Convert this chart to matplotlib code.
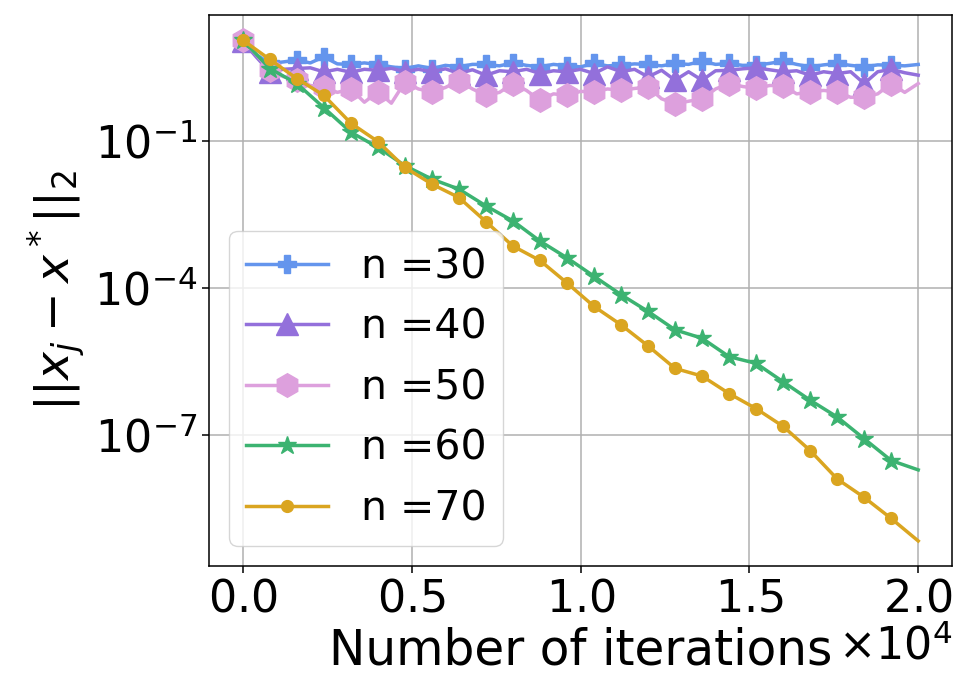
import numpy as np
import matplotlib
matplotlib.use("Agg")
import matplotlib.pyplot as plt
from matplotlib.ticker import NullLocator, FixedLocator, LogFormatterSciNotation

plt.rcParams["axes.formatter.use_mathtext"] = True

# ---- data (log10 of ||x_j - x*||_2) ----
iters_fine = list(range(0, 20001, 400))      # plateau series, every 400 iterations
iters_coarse = list(range(0, 19201, 800)) + [20000]  # descending series

log_n30 = [1.045, 0.75, 0.568, 0.60, 0.636, 0.58, 0.703, 0.56, 0.548, 0.58,
           0.548, 0.50, 0.466, 0.52, 0.466, 0.53, 0.50, 0.55, 0.548, 0.52,
           0.581, 0.53, 0.50, 0.55, 0.52, 0.50, 0.568, 0.52, 0.534, 0.56,
           0.548, 0.52, 0.568, 0.55, 0.616, 0.55, 0.568, 0.53, 0.534, 0.57,
           0.616, 0.55, 0.50, 0.54, 0.568, 0.53, 0.50, 0.54, 0.534, 0.52,
           0.548]
log_n40 = [1.02, 0.70, 0.397, 0.45, 0.466, 0.48, 0.397, 0.45, 0.39, 0.45,
           0.43, 0.47, 0.40, 0.45, 0.40, 0.46, 0.364, 0.44, 0.33, 0.42,
           0.40, 0.45, 0.364, 0.42, 0.40, 0.45, 0.364, 0.50, 0.40, 0.45,
           0.295, 0.43, 0.227, 0.40, 0.227, 0.42, 0.43, 0.46, 0.48, 0.44,
           0.40, 0.42, 0.33, 0.40, 0.364, 0.40, 0.16, 0.40, 0.45, 0.38,
           0.33]
log_n50 = [1.045, 0.75, 0.43, 0.30, 0.24, 0.12, 0.09, -0.02, 0.05, -0.22,
           -0.01, -0.24, 0.19, 0.05, -0.01, 0.08, 0.22, 0.05, -0.08, -0.02,
           0.16, 0.02, -0.18, -0.05, -0.08, 0.0, -0.01, 0.05, 0.02, 0.06,
           0.09, -0.15, -0.25, -0.20, -0.15, 0.05, 0.16, 0.10, 0.06, 0.12,
           0.12, -0.05, -0.01, 0.02, -0.01, -0.12, -0.11, -0.05, 0.16, -0.02,
           0.16]
log_n60 = [1.045, 0.466, 0.16, -0.331, -0.83, -1.137, -1.511, -1.784, -1.988,
           -2.329, -2.636, -3.045, -3.386, -3.761, -4.135, -4.476, -4.851,
           -5.022, -5.397, -5.533, -5.908, -6.282, -6.624, -7.067, -7.51, -7.70]
log_n70 = [1.045, 0.650, 0.262, -0.080, -0.646, -1.02, -1.546, -1.886, -2.159,
           -2.650, -3.147, -3.44, -3.897, -4.374, -4.749, -5.178, -5.636,
           -5.792, -6.147, -6.454, -6.815, -7.306, -7.885, -8.260, -8.689, -9.146]

labels = ["n =30", "n =40", "n =50", "n =60", "n =70"]
y_ticks = [1e-1, 1e-4, 1e-7]
x_ticks = [0, 5000, 10000, 15000, 20000]

# ---- styling ----
series = [
    (iters_fine, log_n30, "#6495ED", "P", 12.5, list(range(0, 49, 2))),
    (iters_fine, log_n40, "#9370DB", "^", 16.5, list(range(0, 49, 2))),
    (iters_fine, log_n50, "#DDA0DD", "h", 17, list(range(0, 49, 2))),
    (iters_coarse, log_n60, "#3CB371", "*", 13.5, list(range(0, 25))),
    (iters_coarse, log_n70, "#DAA520", "o", 8.5, list(range(0, 25))),
]

fig = plt.figure(figsize=(9.7, 6.96), dpi=100)
ax = fig.add_axes([209 / 970, 1 - 566 / 696, 743 / 970, 551 / 696])

for (xs, ls, c, m, ms, me), lab in zip(series, labels):
    ax.plot(xs, 10.0 ** np.array(ls), color=c, marker=m, markersize=ms,
            markevery=me, linewidth=2.5, label=lab)

ax.set_yscale("log")
ax.yaxis.set_major_locator(FixedLocator(y_ticks))
ax.yaxis.set_major_formatter(LogFormatterSciNotation())
ax.yaxis.set_minor_locator(NullLocator())
ax.set_xticks(x_ticks)
ax.ticklabel_format(axis="x", style="sci", scilimits=(0, 0))

ax.grid(True, color="#b0b0b0", linewidth=1.1)
ax.tick_params(labelsize=32, length=5, width=1.1)
ax.xaxis.get_offset_text().set_fontsize(32)
for s in ax.spines.values():
    s.set_linewidth(1.1)

ax.set_xlabel("Number of iterations", fontsize=35)
ax.set_ylabel(r"$||x_j - x^*||_2$", fontsize=34)

ax.legend(loc="lower left", fontsize=29.5)

fig.savefig("out.png", dpi=100)
